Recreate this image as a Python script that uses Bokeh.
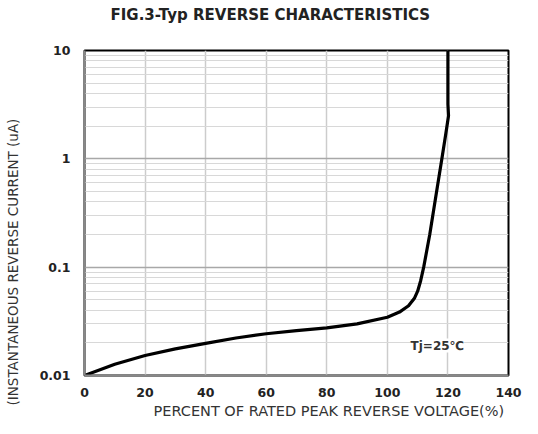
from bokeh.plotting import figure
from bokeh.models import Label, FixedTicker, CustomJSTickFormatter, Title
from bokeh.embed import file_html
from bokeh.resources import INLINE

# data
pct = [0, 10, 20, 30, 40, 50, 60, 70, 80, 90, 100, 104, 107, 109, 110, 111, 112, 114, 116, 118, 119.3, 120.2, 120.0, 120.0]
current = [0.0100, 0.0127, 0.0153, 0.0176, 0.0198, 0.0222, 0.0243, 0.0260, 0.0275, 0.0300, 0.0345,
           0.0385, 0.044, 0.052, 0.060, 0.075, 0.10, 0.20, 0.45, 1.0, 1.7, 2.5, 3.2, 10.0]
x_ticks = [0, 20, 40, 60, 80, 100, 120, 140]
y_ticks = [0.01, 0.1, 1, 10]

title_text = "FIG.3-Typ REVERSE CHARACTERISTICS"
x_label = "PERCENT OF RATED PEAK REVERSE VOLTAGE(%)"
y_label = "(INSTANTANEOUS REVERSE CURRENT (uA)"
note = "Tj=25\u2103"

FONT = "DejaVu Sans"

p = figure(width=530, height=426, x_range=(0, 140), y_range=(0.01, 10), y_axis_type="log",
           output_backend="svg", toolbar_location=None,
           frame_width=424, frame_height=325,
           min_border_left=84, min_border_right=22, min_border_top=50, min_border_bottom=51)

p.background_fill_color = "white"
p.border_fill_color = "white"
p.outline_line_color = "black"
p.outline_line_width = 2

minor = []
for dec in [0.01, 0.1, 1]:
    for k in range(2, 10):
        minor.append(dec * k)
p.yaxis.ticker = FixedTicker(ticks=y_ticks, minor_ticks=minor)
p.ygrid.grid_line_color = "#a8a8a8"
p.ygrid.grid_line_width = 1.5
p.ygrid.minor_grid_line_color = "#d8d8d8"
p.ygrid.minor_grid_line_width = 1.2
p.xaxis.ticker = FixedTicker(ticks=x_ticks)
p.xgrid.grid_line_color = "#cccccc"
p.xgrid.grid_line_width = 1.5

p.yaxis.formatter = CustomJSTickFormatter(code="""
const m = [[0.01, '0.01'], [0.1, '0.1'], [1, '1'], [10, '10']];
for (const [k, s] of m) { if (Math.abs(Math.log10(tick) - Math.log10(k)) < 1e-6) return s; }
return '';
""")

for ax in (p.xaxis, p.yaxis):
    ax.axis_line_color = "#888888"
    ax.axis_line_width = 2
    ax.major_tick_line_color = None
    ax.minor_tick_line_color = None
    ax.major_tick_out = 0
    ax.major_tick_in = 0
    ax.minor_tick_out = 0
    ax.minor_tick_in = 0
    ax.major_label_text_font = FONT
    ax.major_label_text_font_style = "bold"
    ax.major_label_text_font_size = "12.5px"
    ax.major_label_text_color = "#222222"
p.xaxis.major_label_standoff = 12
p.yaxis.major_label_standoff = 14

p.line(pct, current, line_color="black", line_width=3.2, line_join="round")

p.add_layout(Label(x=116.5, y=0.0189, text=note, text_align="center", text_baseline="middle",
                   text_font=FONT, text_font_style="bold", text_font_size="12px",
                   text_color="#333333", background_fill_color="white"))

# spacer panel between the frame and the title
p.add_layout(Title(text="\u00a0", align="left", text_font=FONT, text_font_size="10px",
                   text_color="white", standoff=14), "above")
p.add_layout(Title(text=title_text, align="left", offset=26, text_font=FONT,
                   text_font_style="bold", text_font_size="15px", text_color="#222222",
                   standoff=0), "above")
p.add_layout(Title(text=x_label, align="left", offset=69, text_font=FONT,
                   text_font_style="normal", text_font_size="14.5px", text_color="#333333",
                   standoff=3), "below")
# spacer panel between the y axis and its label
p.add_layout(Title(text="\u00a0", align="left", text_font=FONT, text_font_size="10px",
                   text_color="white", standoff=3), "left")
p.add_layout(Title(text=y_label, align="left", offset=-30, text_font=FONT,
                   text_font_style="normal", text_font_size="13.5px", text_color="#333333",
                   standoff=0), "left")

open("out.html", "w").write(file_html(p, INLINE))
